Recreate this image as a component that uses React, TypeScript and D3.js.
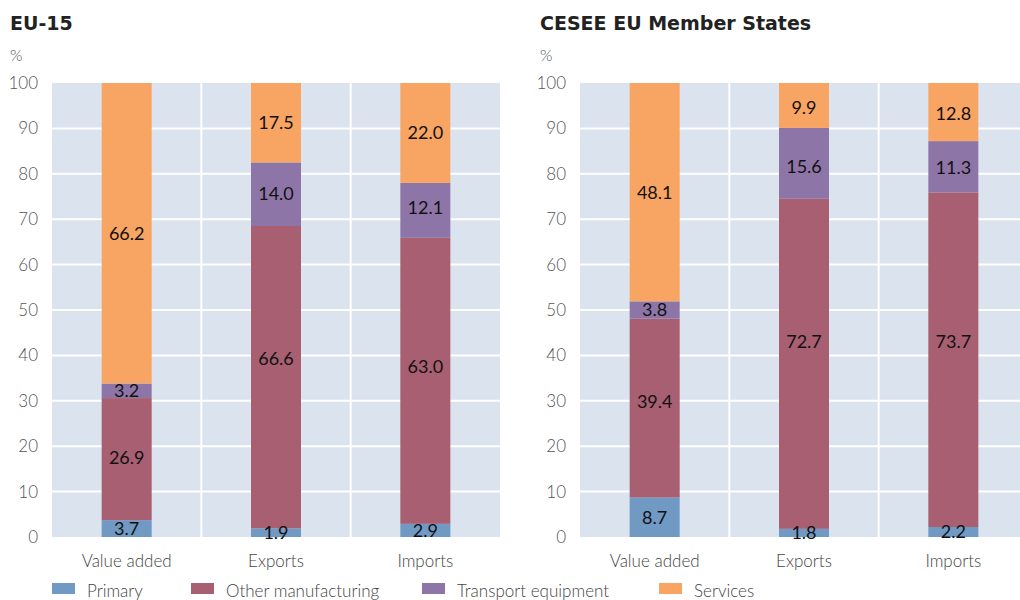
import React from "react";
import * as d3 from "d3";

const categories = ["Value added", "Exports", "Imports"];
const seriesNames = ["Primary", "Other manufacturing", "Transport equipment", "Services"];
const seriesColors = ["#7099C3", "#A75F71", "#8E75A7", "#F8A462"];
const yTicks = [0, 10, 20, 30, 40, 50, 60, 70, 80, 90, 100];

const eu15Primary = [3.7, 1.9, 2.9];
const eu15Manufacturing = [26.9, 66.6, 63.0];
const eu15Transport = [3.2, 14.0, 12.1];
const eu15Services = [66.2, 17.5, 22.0];

const ceseePrimary = [8.7, 1.8, 2.2];
const ceseeManufacturing = [39.4, 72.7, 73.7];
const ceseeTransport = [3.8, 15.6, 11.3];
const ceseeServices = [48.1, 9.9, 12.8];

// label placement tweaks (pixels, negative = up), styling only
const eu15LabelNudge = [[0, 0, 0], [-2, -19, -14], [0, -1, -3], [0, 0, 0]];
const ceseeLabelNudge = [[0, 0, 0], [-7, -22, -18], [0, 3, 1], [0, 2, 1]];

const panels = [
  { title: "EU-15", series: [eu15Primary, eu15Manufacturing, eu15Transport, eu15Services], nudge: eu15LabelNudge, left: 52, titleX: 10 },
  { title: "CESEE EU Member States", series: [ceseePrimary, ceseeManufacturing, ceseeTransport, ceseeServices], nudge: ceseeLabelNudge, left: 580, titleX: 540 },
];

const FONT = "Lato, 'Open Sans', sans-serif";
const TITLE_FONT = "'DejaVu Sans', sans-serif";
const plotTop = 83;
const plotBottom = 537;
const plotWidth = 448;

function Panel({ p }: { p: typeof panels[0] }) {
  const x = d3.scaleBand<string>().domain(categories).range([p.left, p.left + plotWidth]).paddingInner(0).paddingOuter(0);
  const y = d3.scaleLinear().domain([0, 100]).range([plotBottom, plotTop]);
  const rows = categories.map((c, i) => {
    const r: any = { cat: c };
    seriesNames.forEach((s, k) => (r[s] = p.series[k][i]));
    return r;
  });
  const stack = d3.stack<any>().keys(seriesNames)(rows);
  const barW = 50;
  return (
    <g>
      <text x={p.titleX} y={30} fontFamily={TITLE_FONT} fontWeight={700} fontSize={19} fill="#222">{p.title}</text>
      <text x={p.titleX} y={61} fontFamily={FONT} fontWeight={300} fontSize={16} fill="#555">%</text>
      <rect x={p.left} y={plotTop} width={plotWidth} height={plotBottom - plotTop} fill="#DAE3EE" />
      {yTicks.map((t) => (
        <g key={t}>
          {t > 0 && t < 100 && (
            <line x1={p.left} x2={p.left + plotWidth} y1={y(t)} y2={y(t)} stroke="#fff" strokeWidth={2} />
          )}
          <text x={p.left - 14} y={y(t)} dy="0.35em" textAnchor="end" fontFamily={FONT} fontWeight={300} fontSize={17} fill="#555">{t}</text>
        </g>
      ))}
      {categories.slice(1).map((c) => (
        <line key={c} x1={x(c)!} x2={x(c)!} y1={plotTop} y2={plotBottom} stroke="#fff" strokeWidth={2} />
      ))}
      {stack.map((layer, k) => (
        <g key={layer.key}>
          {layer.map((d, i) => {
            const cx = x(categories[i])! + x.bandwidth() / 2;
            return (
              <rect key={i} x={cx - barW / 2} y={y(d[1])} width={barW} height={y(d[0]) - y(d[1])} fill={seriesColors[k]} />
            );
          })}
        </g>
      ))}
      {stack.map((layer, k) => (
        <g key={layer.key + "l"}>
          {layer.map((d, i) => {
            const cx = x(categories[i])! + x.bandwidth() / 2;
            const v = d[1] - d[0];
            return (
              <text key={i} x={cx} y={y((d[0] + d[1]) / 2) + p.nudge[k][i]} dy="0.36em" textAnchor="middle" fontFamily={FONT} fontSize={18} fill="#111">
                {v.toFixed(1)}
              </text>
            );
          })}
        </g>
      ))}
      {categories.map((c) => (
        <text key={c} x={x(c)! + x.bandwidth() / 2} y={567} textAnchor="middle" fontFamily={FONT} fontWeight={300} fontSize={17} fill="#444">{c}</text>
      ))}
    </g>
  );
}

const legendX = [52, 191, 422, 659];

export default function App() {
  return (
    <svg width={1020} height={600} style={{ position: "absolute", left: 0, top: 0, background: "#fff" }}>
      {panels.map((p) => (
        <Panel key={p.title} p={p} />
      ))}
      {seriesNames.map((s, k) => (
        <g key={s}>
          <rect x={legendX[k]} y={583} width={23} height={11} fill={seriesColors[k]} />
          <text x={legendX[k] + 35} y={597} fontFamily={FONT} fontWeight={300} fontSize={17} fill="#444">{s}</text>
        </g>
      ))}
    </svg>
  );
}
